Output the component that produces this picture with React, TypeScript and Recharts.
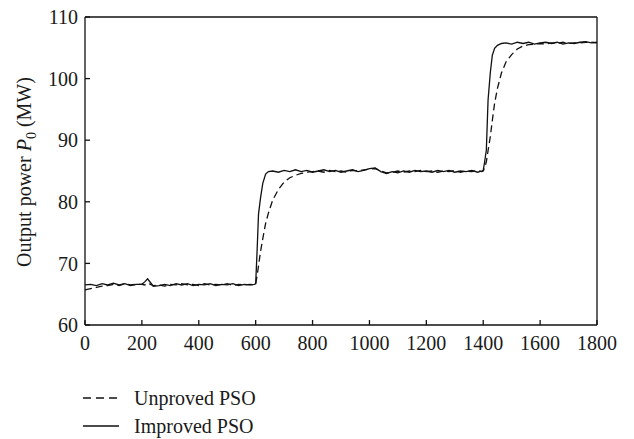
import { LineChart, Line, XAxis, YAxis } from 'recharts';

// time (s)
const time = [
  0, 20, 40, 60, 80, 100, 120, 140, 160, 180,
  200, 210, 220, 230, 240, 260, 280, 300, 320, 340,
  360, 380, 400, 420, 440, 460, 480, 500, 520, 540,
  560, 580, 595, 600, 605, 610, 617, 625, 635, 645,
  660, 680, 700, 720, 740, 760, 780, 800, 820, 840,
  860, 880, 900, 920, 940, 960, 980, 1000, 1020, 1040,
  1060, 1080, 1100, 1120, 1140, 1160, 1180, 1200, 1220, 1240,
  1260, 1280, 1300, 1320, 1340, 1360, 1380, 1395, 1400, 1405,
  1411, 1417, 1425, 1432, 1440, 1450, 1464, 1480, 1500, 1520,
  1540, 1560, 1580, 1600, 1620, 1640, 1660, 1680, 1700, 1720,
  1740, 1760, 1780, 1800,
];

const improved = [
  66.5, 66.6, 66.4, 66.7, 66.5, 66.8, 66.5, 66.7, 66.4, 66.6,
  66.6, 67.0, 67.5, 66.9, 66.3, 66.4, 66.6, 66.4, 66.7, 66.5,
  66.7, 66.4, 66.6, 66.5, 66.7, 66.4, 66.6, 66.5, 66.7, 66.4,
  66.6, 66.5, 66.6, 66.7, 72.0, 78.0, 80.6, 83.0, 84.5, 84.9,
  85.0, 84.8, 85.1, 84.9, 85.2, 84.9, 85.1, 84.8, 85.0, 85.2,
  84.9, 85.1, 84.8, 85.0, 85.2, 84.9, 85.1, 85.4, 85.5, 84.9,
  84.6, 84.9, 84.7, 85.0, 84.8, 85.1, 84.9, 85.0, 84.8, 85.1,
  84.9, 85.1, 84.8, 85.0, 84.9, 85.1, 84.8, 85.0, 85.1, 86.5,
  88.4, 96.5, 101.0, 103.8, 104.9, 105.4, 105.7, 105.8, 105.6, 105.9,
  105.7, 105.9, 105.6, 105.8, 105.9, 105.7, 105.9, 105.6, 105.8, 105.7,
  105.9, 106.0, 105.8, 105.9,
];

const unproved = [
  65.7, 65.9, 66.1, 66.3, 66.4, 66.6, 66.4, 66.7, 66.5, 66.6,
  66.6, 66.5, 66.8, 66.6, 66.4, 66.5, 66.3, 66.6, 66.5, 66.7,
  66.5, 66.6, 66.4, 66.7, 66.5, 66.6, 66.5, 66.7, 66.4, 66.6,
  66.5, 66.6, 66.5, 66.6, 68.0, 69.6, 71.9, 74.0, 76.5, 78.2,
  80.3, 82.0, 83.2, 83.9, 84.3, 84.6, 84.8, 84.9, 85.0, 84.8,
  85.1, 84.9, 85.0, 84.8, 85.1, 85.0, 85.2, 85.3, 85.4, 85.0,
  84.7, 84.8, 85.0, 84.8, 85.0, 84.9, 85.1, 84.9, 85.0, 84.8,
  85.0, 84.9, 85.1, 84.8, 85.0, 84.9, 85.1, 84.9, 85.0, 85.5,
  86.5, 88.3, 90.6, 93.2, 96.0, 98.4, 100.9, 102.7, 103.9, 104.8,
  105.3, 105.5, 105.6, 105.7, 105.6, 105.8, 105.7, 105.9, 105.7, 105.8,
  105.8, 105.9, 105.9, 105.8,
];

const xTicks = [0, 200, 400, 600, 800, 1000, 1200, 1400, 1600, 1800];
const yTicks = [60, 70, 80, 90, 100, 110];

const data = time.map((t, i) => ({ t, improved: improved[i], unproved: unproved[i] }));

const FONT = '"Liberation Serif", "Times New Roman", serif';
const tickStyle = { fontFamily: FONT, fontSize: 20, fill: '#1a1a1a' };

function YLabel() {
  return (
    <text
      transform="translate(31,172) rotate(-90)"
      textAnchor="middle"
      style={{ fontFamily: FONT, fontSize: 20, fill: '#1a1a1a' }}
    >
      Output power <tspan fontStyle="italic">P</tspan>
      <tspan fontSize={14} dy={5}>0</tspan>
      <tspan dy={-5}> (MW)</tspan>
    </text>
  );
}

function LegendBox() {
  const row = (dash: string | undefined, label: string) => (
    <div style={{ display: 'flex', alignItems: 'center', height: 28 }}>
      <svg width={36} height={10} style={{ marginRight: 15 }}>
        <line x1={0} y1={5} x2={36} y2={5} stroke="#111" strokeWidth={1.3} strokeDasharray={dash} />
      </svg>
      <span style={{ fontFamily: FONT, fontSize: 20, color: '#1a1a1a' }}>{label}</span>
    </div>
  );
  return (
    <div style={{ position: 'absolute', left: 83, top: 384 }}>
      {row('8 5', 'Unproved PSO')}
      {row(undefined, 'Improved PSO')}
    </div>
  );
}

export default function App() {
  return (
    <div style={{ position: 'absolute', left: 0, top: 0, width: 634, height: 439, background: '#fff' }}>
      <LineChart width={634} height={439} data={data} margin={{ top: 16, right: 36, bottom: 84, left: 0 }}>
        <XAxis
          dataKey="t"
          type="number"
          domain={[0, 1800]}
          ticks={xTicks}
          interval={0}
          tick={tickStyle}
          tickSize={-5}
          tickMargin={16}
          height={30}
          stroke="#111"
          strokeWidth={1.3}
        />
        <XAxis
          xAxisId="top"
          orientation="top"
          dataKey="t"
          type="number"
          domain={[0, 1800]}
          ticks={xTicks}
          tick={false}
          tickSize={-5}
          height={1}
          stroke="#111"
          strokeWidth={1.3}
        />
        <YAxis
          domain={[60, 110]}
          ticks={yTicks}
          interval={0}
          tick={tickStyle}
          tickSize={-5}
          tickMargin={12}
          width={85}
          stroke="#111"
          strokeWidth={1.3}
          label={{ content: () => <YLabel /> }}
        />
        <YAxis
          yAxisId="right"
          orientation="right"
          domain={[60, 110]}
          ticks={yTicks}
          tick={false}
          tickSize={-5}
          width={1}
          stroke="#111"
          strokeWidth={1.3}
        />
        <Line
          dataKey="unproved"
          stroke="#111"
          strokeWidth={1.3}
          strokeDasharray="7 4"
          dot={false}
          isAnimationActive={false}
        />
        <Line
          dataKey="improved"
          stroke="#111"
          strokeWidth={1.3}
          dot={false}
          isAnimationActive={false}
        />
      </LineChart>
      <LegendBox />
    </div>
  );
}
